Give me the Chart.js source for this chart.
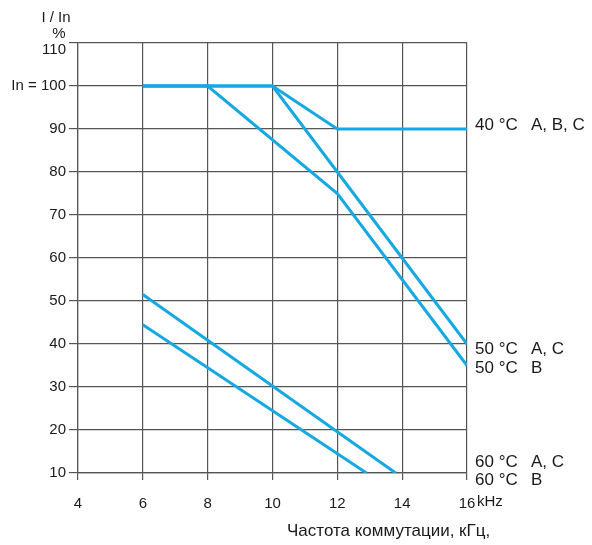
<!DOCTYPE html>
<html>
<head>
<meta charset="utf-8">
<script src="https://cdn.jsdelivr.net/npm/chart.js@4.4.1/dist/chart.umd.min.js"></script>
<style>
  html, body { margin: 0; padding: 0; background: #ffffff; }
  #wrap { width: 592px; height: 545px; position: relative; }
</style>
</head>
<body>
<div id="wrap"><canvas id="c" width="592" height="545"></canvas></div>
<script>
// ---- data ----
const xTicks = [4, 6, 8, 10, 12, 14, 16];
const yTicks = [10, 20, 30, 40, 50, 60, 70, 80, 90, 100, 110];

const freq40 = [6, 10, 12, 16];
const val40 = [100, 100, 90, 90];

const freq50AC = [6, 10, 12, 16];
const val50AC = [100, 100, 80, 40];

const freq50B = [6, 8, 12, 16];
const val50B = [100, 100, 75, 35];

const freq60AC = [6, 13.8];
const val60AC = [51.5, 10];

const freq60B = [6, 12.9];
const val60B = [44.5, 10];

const seriesNames = ['40 °C  A, B, C', '50 °C  A, C', '50 °C  B', '60 °C  A, C', '60 °C  B'];

const xTitle = 'Частота коммутации, кГц,';
const yTitle = 'I / In';
const yUnit = '%';
const xUnit = 'kHz';

// ---- rendering ----
const LINE = '#16a8e2';
const GRID = '#555555';
const TXT = '#1a1a1a';
const FONT = '"Liberation Sans", Arial, sans-serif';

function pts(xs, ys) { return xs.map((x, i) => ({ x: x, y: ys[i] })); }

function ds(name, xs, ys) {
  return {
    label: name, data: pts(xs, ys),
    borderColor: LINE, backgroundColor: LINE,
    borderWidth: 3, pointRadius: 0, tension: 0, fill: false,
    borderCapStyle: 'butt', borderJoinStyle: 'miter'
  };
}

const labelPlugin = {
  id: 'labels',
  afterDraw(chart) {
    const ctx = chart.ctx;
    const xs = chart.scales.x, ys = chart.scales.y;
    ctx.save();
    ctx.fillStyle = TXT;
    ctx.textBaseline = 'middle';
    // right-side series labels (split so the gap before the letters matches)
    ctx.font = '17px ' + FONT;
    ctx.textAlign = 'left';
    const lx = xs.right + 8;
    const ly = [125, 349, 368, 462, 480];
    seriesNames.forEach((n, i) => {
      const parts = n.split('  ');
      ctx.fillText(parts[0], lx, ly[i]);
      ctx.fillText(parts[1], lx + 56, ly[i]);
    });
    // y title
    ctx.font = '15px ' + FONT;
    ctx.textAlign = 'center';
    ctx.fillText(yTitle, 56, 18);
    ctx.fillText(yUnit, 59, 34);
    // top tick label sits a little below its grid line
    ctx.textAlign = 'right';
    ctx.fillText(String(yTicks[yTicks.length - 1]), 66, 50);
    // kHz unit next to last tick
    ctx.textAlign = 'left';
    ctx.fillText(xUnit, xs.getPixelForValue(16) + 10, 502);
    // x title
    ctx.font = '17px ' + FONT;
    ctx.textAlign = 'left';
    ctx.fillText(xTitle, 287, 531);
    ctx.restore();
  }
};

new Chart(document.getElementById('c'), {
  type: 'line',
  data: {
    datasets: [
      ds(seriesNames[0], freq40, val40),
      ds(seriesNames[1], freq50AC, val50AC),
      ds(seriesNames[2], freq50B, val50B),
      ds(seriesNames[3], freq60AC, val60AC),
      ds(seriesNames[4], freq60B, val60B)
    ]
  },
  options: {
    responsive: false,
    animation: false,
    layout: { padding: { left: 0, top: 43, right: 125, bottom: 0 } },
    plugins: { legend: { display: false }, tooltip: { enabled: false } },
    scales: {
      x: {
        type: 'linear', min: 4, max: 16,
        afterBuildTicks(s) { s.ticks = xTicks.map(v => ({ value: v })); },
        afterFit(s) { s.height = 72; },
        grid: { color: GRID, lineWidth: 1.2, tickLength: 7, drawTicks: true },
        border: { color: GRID, width: 1.2 },
        ticks: { color: TXT, font: { family: FONT, size: 15 }, padding: 15, maxRotation: 0, autoSkip: false }
      },
      y: {
        type: 'linear', min: 10, max: 110,
        afterBuildTicks(s) { s.ticks = yTicks.map(v => ({ value: v })); },
        afterFit(s) { s.width = 78; },
        grid: { color: GRID, lineWidth: 1.2, tickLength: 9, drawTicks: true },
        border: { color: GRID, width: 1.2 },
        ticks: {
          color: TXT, font: { family: FONT, size: 15 }, padding: 3, autoSkip: false,
          callback: v => (v === 100 ? 'In = 100' : (v === 110 ? '' : String(v)))
        }
      }
    }
  },
  plugins: [labelPlugin]
});
</script>
</body>
</html>
